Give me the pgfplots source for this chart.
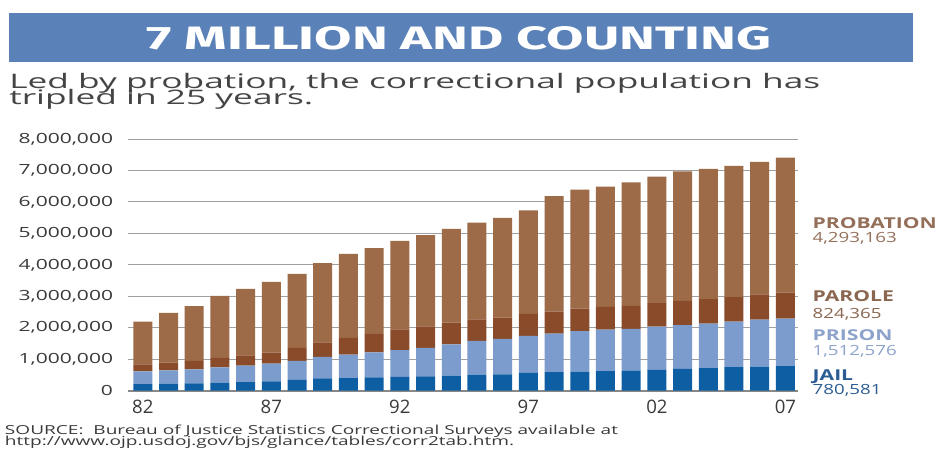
\documentclass[border=0pt]{standalone}
\usepackage{pgfplots}
\pgfplotsset{compat=1.18}
\usepackage{pgfplotstable}
\usepackage{graphicx}
\usepackage{fontspec}
\setmainfont{Open Sans}
\newfontfamily\titlefont{Fira Sans}

\definecolor{titlebg}{HTML}{5A81B8}
\definecolor{cjail}{HTML}{0E5EA3}
\definecolor{cprison}{HTML}{7C9CCD}
\definecolor{cparole}{HTML}{8A4B2A}
\definecolor{cprob}{HTML}{9D6B47}
\definecolor{tprob}{HTML}{94705A}
\definecolor{tparole}{HTML}{8A6650}
\definecolor{tprison}{HTML}{8DA3CB}
\definecolor{tjail}{HTML}{2B5C93}
\definecolor{txt}{HTML}{3A3A3A}
\definecolor{subcol}{HTML}{444444}
\definecolor{gridcol}{HTML}{A0A0A0}
\definecolor{basecol}{HTML}{888888}

\newlength\tmpw
\newcommand\subfont{\fontsize{20}{20}\selectfont}
\newcommand\srcfont{\fontsize{12.4}{12.4}\selectfont}
\newcommand\lblfont{\fontsize{15}{15}\selectfont\bfseries}
\newcommand\numfont{\fontsize{14}{14}\selectfont}
\newcommand\yl[1]{\scalebox{1.5}[1]{#1}}

\pgfplotstableread{
i jail prison parole probation
0 207853 402914 224604 1357264
1 221815 423898 246440 1582947
2 233018 448264 266992 1740948
3 254986 487593 300203 1968712
4 272736 526436 325638 2114621
5 294092 562814 355505 2247158
6 341893 607766 407977 2356483
7 393303 683367 456803 2522125
8 403019 743382 531407 2670234
9 424129 792535 590442 2728472
10 441781 850566 658601 2811611
11 455500 909381 676100 2903061
12 479800 990147 690371 2981022
13 507044 1078542 679421 3077861
14 518492 1127528 679733 3164996
15 567079 1176922 694787 3296513
16 592462 1224469 696385 3670441
17 605943 1287172 714457 3779922
18 621149 1316333 723898 3826209
19 631240 1330007 732333 3931731
20 665475 1367547 750934 4024067
21 691301 1390279 769925 4120012
22 713990 1421345 771852 4143792
23 747529 1448344 780616 4166757
24 765819 1492973 799875 4215361
25 780581 1512576 824365 4293163
}\datatable

\begin{document}
\settowidth\tmpw{\subfont Led by probation, the correctional population has}%
\pgfmathsetmacro\subsx{811/\tmpw}%
\settowidth\tmpw{\srcfont SOURCE:\ \ Bureau of Justice Statistics Correctional Surveys available at}%
\pgfmathsetmacro\srcsx{613/\tmpw}%
\settowidth\tmpw{\lblfont PROBATION}%
\pgfmathsetmacro\lblsx{124/\tmpw}%
\settowidth\tmpw{\numfont 1,512,576}%
\pgfmathsetmacro\numsx{84/\tmpw}%
\begin{tikzpicture}[inner sep=0pt, outer sep=0pt]
\useasboundingbox (0,0) rectangle (938pt,448pt);
\fill[white] (0,0) rectangle (938pt,448pt);
% title bar
\fill[titlebg] (9.3pt,386.3pt) rectangle (913pt,435.3pt);
\node[anchor=base, text=white] at (459pt,398pt) {\resizebox{624pt}{23pt}{\titlefont\bfseries 7 MILLION AND COUNTING}};
% subtitle
\node[anchor=base west, text=subcol] at (9.3pt,359pt) {\scalebox{\subsx}[1]{\subfont Led by probation, the correctional population has}};
\node[anchor=base west, text=subcol] at (9.3pt,343pt) {\scalebox{\subsx}[1]{\subfont tripled in 25 years.}};
% source
\node[anchor=base west, text=txt] at (5pt,13.5pt) {\scalebox{\srcsx}[1]{\srcfont SOURCE:\ \ Bureau of Justice Statistics Correctional Surveys available at}};
\node[anchor=base west, text=txt] at (5pt,3pt) {\scalebox{\srcsx}[1]{\srcfont http://www.ojp.usdoj.gov/bjs/glance/tables/corr2tab.htm.}};
% right labels
\node[anchor=base west, text=tprob] at (812.7pt,219pt) {\scalebox{\lblsx}[1]{\lblfont PROBATION}};
\node[anchor=base west, text=tprob] at (812.7pt,205.5pt) {\scalebox{\numsx}[1]{\numfont 4,293,163}};
\node[anchor=base west, text=tparole] at (812.7pt,146.5pt) {\scalebox{\lblsx}[1]{\lblfont PAROLE}};
\node[anchor=base west, text=tparole] at (812.7pt,129.7pt) {\scalebox{\numsx}[1]{\numfont 824,365}};
\node[anchor=base west, text=tprison] at (812.7pt,107.5pt) {\scalebox{\lblsx}[1]{\lblfont PRISON}};
\node[anchor=base west, text=tprison] at (812.7pt,93pt) {\scalebox{\numsx}[1]{\numfont 1,512,576}};
\node[anchor=base west, text=tjail] at (812.7pt,68pt) {\scalebox{\lblsx}[1]{\lblfont JAIL}};
\node[anchor=base west, text=tjail] at (812.7pt,54pt) {\scalebox{\numsx}[1]{\numfont 780,581}};

\begin{axis}[
  at={(128pt,57.3pt)}, anchor=south west,
  scale only axis, width=670pt, height=251.7pt,
  xmin=-0.576, xmax=25.49, ymin=0, ymax=8000000,
  enlargelimits=false,
  ybar stacked, bar width=19pt,
  axis line style={draw=none},
  tick style={draw=none}, major tick length=0pt,
  xticklabel pos=lower, yticklabel pos=left,
  ymajorgrids, major grid style={color=gridcol, line width=1pt},
  xtick={0,5,10,15,20,25},
  xticklabels={82,87,92,97,02,07},
  xticklabel style={font=\fontsize{18.6}{18.6}\selectfont, text=txt, anchor=north, inner sep=0pt, yshift=-9pt},
  ytick={1000000,2000000,3000000,4000000,5000000,6000000,7000000,8000000},
  yticklabels={{\yl{1,000,000}},{\yl{2,000,000}},{\yl{3,000,000}},{\yl{4,000,000}},{\yl{5,000,000}},{\yl{6,000,000}},{\yl{7,000,000}},{\yl{8,000,000}}},
  yticklabel style={font=\fontsize{14}{14}\selectfont, text=txt, anchor=east, inner sep=0pt, xshift=-15pt},
  extra y ticks={0},
  extra y tick labels={{\yl{0}}},
  extra y tick style={major grid style={color=basecol, line width=2pt}},
  scaled y ticks=false,
]
\addplot[fill=cjail, draw=none] table[x=i, y=jail] {\datatable};
\addplot[fill=cprison, draw=none] table[x=i, y=prison] {\datatable};
\addplot[fill=cparole, draw=none] table[x=i, y=parole] {\datatable};
\addplot[fill=cprob, draw=none] table[x=i, y=probation] {\datatable};
\end{axis}
\end{tikzpicture}
\end{document}
